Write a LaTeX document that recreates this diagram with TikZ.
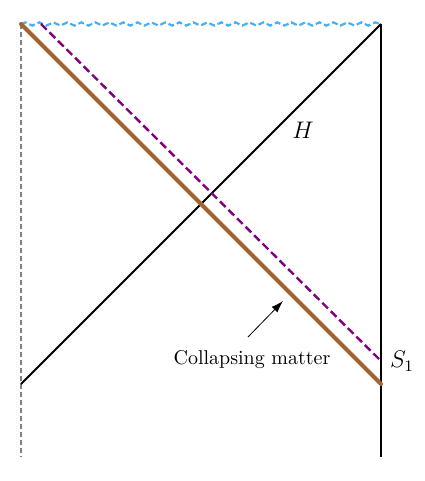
\documentclass[tikz,border=0pt]{standalone}
\usetikzlibrary{decorations.pathmorphing,arrows.meta}
\definecolor{matterbrown}{RGB}{160,100,50}
\definecolor{shellpurple}{RGB}{128,0,128}
\definecolor{singblue}{RGB}{70,175,245}
\begin{document}
\begin{tikzpicture}[x=0.5pt,y=-0.5pt,
  boundary/.style={line width=1pt,black},
  axis/.style={line width=0.6pt,gray,dash pattern=on 2.5pt off 1.5pt},
  matter/.style={line width=2pt,matterbrown},
  shell/.style={line width=1.2pt,shellpurple,dash pattern=on 4pt off 2pt},
  sing/.style={line width=1.1pt,singblue,dash pattern=on 3pt off 1.5pt,decorate,decoration={snake,amplitude=0.8pt,segment length=7pt}},
  lab/.style={inner sep=0pt}]
\useasboundingbox (0,0) rectangle (424,481);
\coordinate (TL) at (21,24);
\coordinate (TR) at (381,24);
\coordinate (BL) at (21,457);
\coordinate (BR) at (381,457);
\coordinate (HL) at (21,384);
\coordinate (PT) at (41,24);
\coordinate (PE) at (381,361);
\coordinate (ME) at (381,384);
\coordinate (AS) at (248,337);
\coordinate (AE) at (283,301);
\draw[axis] (TL) -- (BL);
\draw[boundary] (TR) -- (BR);
\draw[sing] (TL) -- (TR);
\draw[boundary] (HL) -- (TR);
\draw[shell] (PT) -- (PE);
\draw[matter,line cap=round] (TL) -- (ME);
\node[lab] (H) at (303,130) {\large $H$};
\node[lab] (S) at (402,361) {\large $S_1$};
\node[lab] (cm) at (252,360) {Collapsing matter};
\draw[-{Latex[length=6pt,width=4pt]},line width=0.4pt] (AS) -- (AE);
\end{tikzpicture}
\end{document}
